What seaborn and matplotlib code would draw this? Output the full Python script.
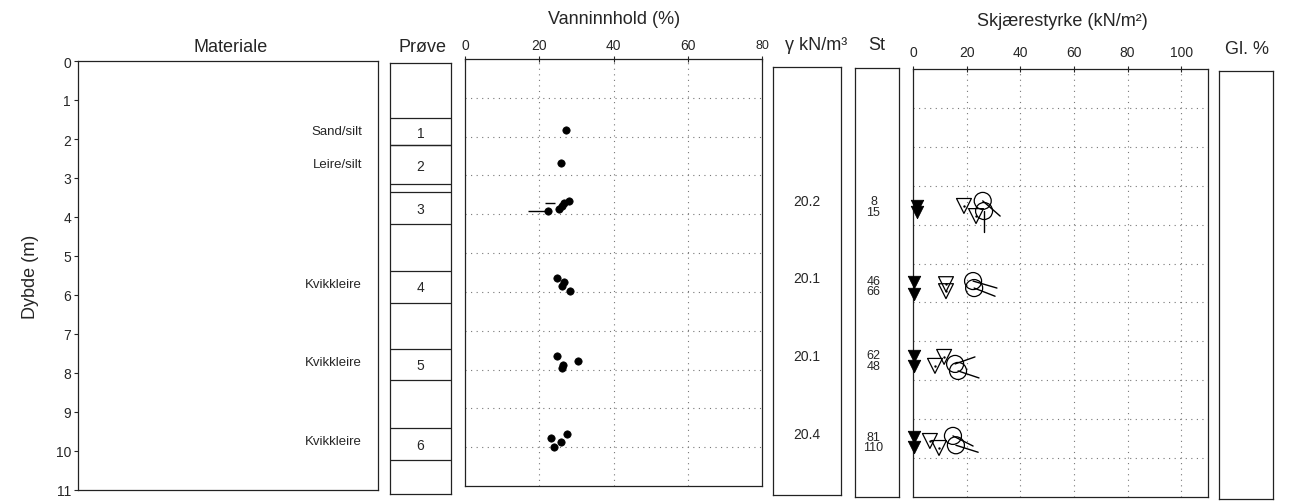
import matplotlib
matplotlib.use("Agg")
import pandas as pd
import matplotlib.pyplot as plt
import seaborn as sns

sns.set_style("white")
plt.rcParams["font.family"] = ["Liberation Sans", "DejaVu Sans"]

W, H = 1291, 502

depth_ticks = list(range(0, 12))

# sample boxes in the "Prøve" column (m)
sample_no = ["1", "2", "3", "4", "5", "6"]
sample_top = [1.41, 2.10, 3.28, 5.31, 7.31, 9.31]
sample_bot = [2.10, 3.10, 4.10, 6.13, 8.10, 10.13]
sample_lbl_depth = [1.79, 2.62, 3.72, 5.72, 7.72, 9.74]

material_names = ["Sand/silt", "Leire/silt", "Kvikkleire", "Kvikkleire", "Kvikkleire"]
material_depth = [1.79, 2.64, 5.72, 7.72, 9.74]

# water content (%)
w_depth = [1.83, 2.68, 3.66, 3.71, 3.79, 3.87, 3.92, 5.64, 5.75, 5.85, 5.98,
           7.65, 7.78, 7.89, 7.96, 9.66, 9.77, 9.87, 10.0]
w_value = [27.2, 25.9, 28.0, 26.7, 26.1, 25.4, 22.4, 24.8, 26.7, 26.1, 28.3,
           24.8, 30.5, 26.4, 26.1, 27.5, 23.2, 25.9, 24.0]
# short horizontal bars next to sample 3
wbar_depth = [3.92, 3.71]
wbar_from = [17.0, 21.6]
wbar_to = [22.4, 24.3]

# unit weight (kN/m3)
gamma_txt = ["20.2", "20.1", "20.1", "20.4"]
gamma_depth = [3.44, 5.42, 7.43, 9.43]

# sensitivity St
st_txt = ["8", "15", "46", "66", "62", "48", "81", "110"]
st_depth = [3.42, 3.70, 5.46, 5.72, 7.36, 7.63, 9.45, 9.72]

# shear strength (kN/m2)
sur_x = [1.5, 1.5, 0.5, 0.5, 0.5, 0.5, 0.3, 0.3]
sur_depth = [3.52, 3.68, 5.48, 5.78, 7.38, 7.63, 9.46, 9.72]
su_cone_x = [19.0, 23.5, 12.3, 12.3, 8.2, 11.6, 6.3, 9.7]
su_cone_depth = [3.52, 3.78, 5.53, 5.71, 7.63, 7.40, 9.56, 9.74]
su_ua_x = [26.0, 26.5, 22.4, 22.8, 15.7, 16.8, 14.9, 16.0]
su_ua_depth = [3.39, 3.65, 5.45, 5.63, 7.58, 7.76, 9.43, 9.67]
tail_x = [32.5, 26.5, 31.3, 30.6, 23.1, 24.6, 22.4, 24.3]
tail_depth = [3.78, 4.19, 5.63, 5.84, 7.40, 7.94, 9.69, 9.85]

water = pd.DataFrame({"w": w_value, "dybde": w_depth})
sur = pd.DataFrame({"su": sur_x, "dybde": sur_depth})
cone = pd.DataFrame({"su": su_cone_x, "dybde": su_cone_depth})
ua = pd.DataFrame({"su": su_ua_x, "dybde": su_ua_depth})


def px(l, t, r, b):
    return [l / W, 1 - b / H, (r - l) / W, (b - t) / H]


def ftext(x, y, s, **kw):
    fig.text(x / W, 1 - y / H, s, ha="center", va="center", **kw)


def frame(ax):
    for sp in ax.spines.values():
        sp.set_visible(True)
        sp.set_color("#222222")
        sp.set_linewidth(0.9)


GRID = dict(color="#777777", linestyle=(0, (1, 4)), linewidth=0.8)

fig = plt.figure(figsize=(W / 100, H / 100), dpi=100)

# ── Materiale ────────────────────────────────────────────────────────────────
ax_m = fig.add_axes(px(78, 62, 378, 491))
frame(ax_m)
ax_m.set_xlim(0, 1)
ax_m.set_ylim(11, 0)
ax_m.set_xticks([])
ax_m.set_yticks(depth_ticks)
ax_m.tick_params(axis="y", direction="out", length=3, labelsize=10, pad=2, left=True)
ax_m.set_ylabel("Dybde (m)", fontsize=13, labelpad=12)
for name, d in zip(material_names, material_depth):
    ax_m.text(0.947, d, name, ha="right", va="center", fontsize=9.5)

# ── Prøve ────────────────────────────────────────────────────────────────────
ax_p = fig.add_axes(px(390, 64, 451, 495))
frame(ax_p)
ax_p.set_xlim(0, 1)
ax_p.set_ylim(11, 0)
ax_p.set_xticks([])
ax_p.set_yticks([])
ax_p.hlines(sample_top + sample_bot, 0, 1, color="#222222", linewidth=0.9)
for no, d in zip(sample_no, sample_lbl_depth):
    ax_p.text(0.5, d, no, ha="center", va="center", fontsize=10)

# ── Vanninnhold ──────────────────────────────────────────────────────────────
ax_w = fig.add_axes(px(465, 60, 762, 487))
frame(ax_w)
ax_w.set_xlim(0, 80)
ax_w.set_ylim(11, 0)
for x in [20, 40, 60]:
    ax_w.axvline(x, **GRID)
for d in range(1, 11):
    ax_w.axhline(d, **GRID)
sns.scatterplot(data=water, x="w", y="dybde", ax=ax_w, color="black",
                s=28, edgecolor="black", linewidth=0.5, zorder=3)
ax_w.hlines(wbar_depth, wbar_from, wbar_to, color="black", linewidth=1.0)
ax_w.xaxis.tick_top()
ax_w.set_xticks([0, 20, 40, 60, 80])
ax_w.set_xticklabels(["0", "20", "40", "60", ""])
ax_w.tick_params(axis="x", direction="inout", length=4, labelsize=10, pad=3, top=True)
ax_w.set_yticks([])
ax_w.set_xlabel("")
ax_w.set_ylabel("")

# ── γ ────────────────────────────────────────────────────────────────────────
ax_g = fig.add_axes(px(773, 68, 841, 496))
frame(ax_g)
ax_g.set_xlim(0, 1)
ax_g.set_ylim(11, 0)
ax_g.set_xticks([])
ax_g.set_yticks([])
for t, d in zip(gamma_txt, gamma_depth):
    ax_g.text(0.5, d, t, ha="center", va="center", fontsize=10)

# ── St ───────────────────────────────────────────────────────────────────────
ax_s = fig.add_axes(px(855, 69, 899, 498))
frame(ax_s)
ax_s.set_xlim(0, 1)
ax_s.set_ylim(11, 0)
ax_s.set_xticks([])
ax_s.set_yticks([])
for t, d in zip(st_txt, st_depth):
    ax_s.text(0.42, d, t, ha="center", va="center", fontsize=9)

# ── Skjærestyrke ─────────────────────────────────────────────────────────────
ax_su = fig.add_axes(px(913, 70, 1208, 498))
frame(ax_su)
ax_su.set_xlim(0, 110)
ax_su.set_ylim(11, 0)
for x in [20, 40, 60, 80, 100]:
    ax_su.axvline(x, **GRID)
for d in range(1, 11):
    ax_su.axhline(d, **GRID)
for x0, d0, x1, d1 in zip(su_ua_x, su_ua_depth, tail_x, tail_depth):
    ax_su.plot([x0, x1], [d0, d1], color="black", linewidth=1.0, zorder=3)
sns.scatterplot(data=sur, x="su", y="dybde", ax=ax_su, marker="v", color="black",
                s=80, edgecolor="black", linewidth=0.6, zorder=4, clip_on=False)
sns.scatterplot(data=cone, x="su", y="dybde", ax=ax_su, marker="v", s=115,
                facecolors="none", edgecolor="black", linewidth=0.9, zorder=4)
sns.scatterplot(data=cone, x="su", y="dybde", ax=ax_su, marker="o", s=3,
                color="black", linewidth=0, zorder=4)
sns.scatterplot(data=ua, x="su", y="dybde", ax=ax_su, marker="o", s=150,
                facecolors="none", edgecolor="black", linewidth=0.9, zorder=4)
ax_su.xaxis.tick_top()
ax_su.set_xticks([0, 20, 40, 60, 80, 100])
ax_su.tick_params(axis="x", direction="inout", length=4, labelsize=10, pad=5, top=True)
ax_su.set_yticks([])
ax_su.set_xlabel("")
ax_su.set_ylabel("")

# ── Gl. % ────────────────────────────────────────────────────────────────────
ax_gl = fig.add_axes(px(1219, 72, 1273, 500))
frame(ax_gl)
ax_gl.set_xticks([])
ax_gl.set_yticks([])

# ── Headers ──────────────────────────────────────────────────────────────────
ftext(231, 47, "Materiale", fontsize=13)
ftext(422, 47, "Prøve", fontsize=13)
ftext(614, 20, "Vanninnhold (%)", fontsize=13)
ftext(762, 46, "80", fontsize=9)
ftext(816, 46, "γ kN/m³", fontsize=13)
ftext(877, 46, "St", fontsize=13)
ftext(1062, 22, "Skjærestyrke (kN/m²)", fontsize=13)
ftext(1247, 50, "Gl. %", fontsize=13)

fig.savefig("out.png", dpi=100, facecolor="white")
